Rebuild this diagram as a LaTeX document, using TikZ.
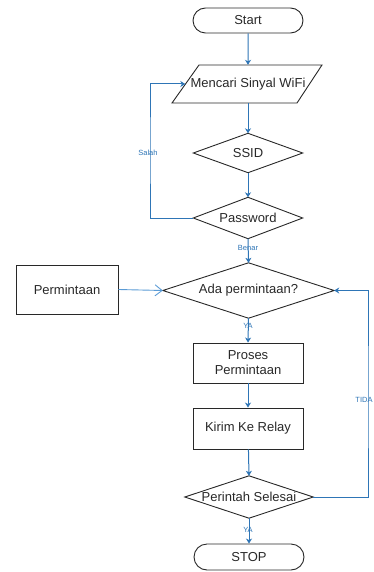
\documentclass[tikz,border=0pt]{standalone}
\usepackage{fontspec}
\setmainfont{Liberation Sans}
\usetikzlibrary{shapes.misc,arrows.meta}
\definecolor{ln}{RGB}{46,117,182}
\definecolor{ln2}{RGB}{91,155,213}
\definecolor{bd}{RGB}{40,40,40}
\begin{document}
\begin{tikzpicture}[x=1pt,y=-1pt,
  every node/.style={font=\fontsize{13}{16}\selectfont, inner sep=0pt, text=bd},
  term/.style={draw=bd, rounded rectangle, minimum width=110pt, minimum height=25pt, line width=0.9pt},
  boxn/.style={draw=bd, rectangle, line width=0.9pt},
  dec/.style={rectangle},
  outl/.style={draw=bd, line width=0.9pt},
  flow/.style={draw=ln, line width=1pt, -{Stealth[length=5pt,width=6pt,inset=1.5pt]}},
  lbl/.style={font=\fontsize{7.5}{8}\selectfont, text=ln}
]
\useasboundingbox (0,0) rectangle (374,572);

\node[term] (start) at (248,20.5) {Start};
\draw[outl] (199,65) -- (322,65) -- (297,103) -- (172,103) -- cycle;
\node[minimum width=125pt, minimum height=38pt] (para) at (248,84) {Mencari Sinyal WiFi};
\node[dec, minimum width=109pt, minimum height=39pt] (ssid) at (248,153) {SSID};
\node[dec, minimum width=109pt, minimum height=41pt] (pass) at (248,218) {Password};
\node[boxn, minimum width=102pt, minimum height=49pt] (perm) at (67,289.5) {Permintaan};
\node[dec, minimum width=171pt, minimum height=55pt] (ada) at (248.5,290.5) {Ada permintaan?};
\node[boxn, minimum width=110pt, minimum height=40pt, align=center] (proses) at (248,363) {Proses\\[-1pt]Permintaan};
\node[boxn, minimum width=110pt, minimum height=41pt] (kirim) at (248,428.5) {Kirim Ke Relay};
\node[dec, minimum width=128pt, minimum height=42pt] (selesai) at (249,497) {Perintah Selesai};
\node[term, minimum height=26pt] (stop) at (249,557) {STOP};

\foreach \d in {ssid,pass,ada,selesai}
  \draw[outl] (\d.north) -- (\d.east) -- (\d.south) -- (\d.west) -- cycle;

\coordinate (lc) at (150,150);
\coordinate (rc) at (368,400);

\draw[flow] (start) -- (para.north);
\draw[flow] (para.south) -- (ssid.north);
\draw[flow] (ssid.south) -- (pass.north);
\draw[flow] (pass.west) -| (lc) |- (para.west);
\draw[flow] (pass.south) -- (ada.north);
\draw[draw=ln2, line width=0.9pt, -{Straight Barb[length=7pt,width=11pt]}] (perm.east) -- (ada.west);
\draw[flow] (ada.south) -- (proses.north);
\draw[flow] (proses) -- (kirim);
\draw[flow] (kirim) -- (selesai.north);
\draw[flow] (selesai.south) -- (stop.north);
\draw[flow] (selesai.east) -| (rc) |- (ada.east);

\node[lbl] (lsalah) at (148,153) {Salah};
\node[lbl] (lbenar) at (248,248) {Benar};
\node[lbl] (lya1) at (248,326) {YA};
\node[lbl] (ltida) at (364,400) {TIDA};
\node[lbl] (lya2) at (248,530) {YA};
\end{tikzpicture}
\end{document}
